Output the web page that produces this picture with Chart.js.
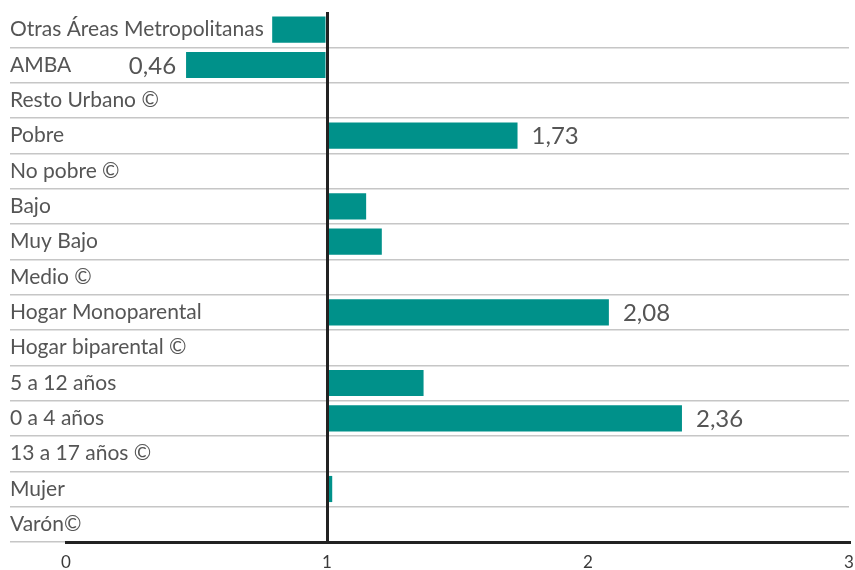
<!DOCTYPE html>
<html>
<head>
<meta charset="utf-8">
<script src="https://cdn.jsdelivr.net/npm/chart.js@4/dist/chart.umd.min.js"></script>
<style>
  html, body { margin: 0; padding: 0; background: #fff; }
  #wrap { width: 855px; height: 570px; }
</style>
</head>
<body>
<div id="wrap"><canvas id="chart"></canvas></div>
<script>
var categories = ['Otras Áreas Metropolitanas', 'AMBA', 'Resto Urbano ©', 'Pobre', 'No pobre ©',
  'Bajo', 'Muy Bajo', 'Medio ©', 'Hogar Monoparental', 'Hogar biparental ©',
  '5 a 12 años', '0 a 4 años', '13 a 17 años ©', 'Mujer', 'Varón©'];
var values = [0.79, 0.46, 1, 1.73, 1, 1.15, 1.21, 1, 2.08, 1, 1.37, 2.36, 1, 1.02, 1];
var valueLabels = ['', '0,46', '', '1,73', '', '', '', '', '2,08', '', '', '2,36', '', '', ''];
var xTicks = [0, 1, 2, 3];

var textColor = '#555';
var fontFamily = 'Lato, "Open Sans", sans-serif';

// value labels next to the bars
var valueLabelPlugin = {
  id: 'valueLabels',
  afterDatasetsDraw: function(chart) {
    var ctx = chart.ctx;
    var meta = chart.getDatasetMeta(0);
    ctx.save();
    ctx.font = '24px ' + fontFamily;
    ctx.fillStyle = textColor;
    ctx.textBaseline = 'middle';
    meta.data.forEach(function(bar, i) {
      var txt = valueLabels[i];
      if (!txt) return;
      if (values[i] >= 1) {
        ctx.textAlign = 'left';
        ctx.fillText(txt, bar.x + 14, bar.y + 1);
      } else {
        ctx.textAlign = 'right';
        ctx.fillText(txt, bar.x - 10, bar.y + 1);
      }
    });
    ctx.restore();
  }
};

var n = categories.length;

new Chart(document.getElementById('chart'), {
  type: 'bar',
  data: {
    labels: categories,
    datasets: [{
      data: values,
      base: 1,
      backgroundColor: '#00918a',
      borderWidth: 0,
      categoryPercentage: 0.74,
      barPercentage: 1
    }]
  },
  options: {
    indexAxis: 'y',
    responsive: true,
    maintainAspectRatio: false,
    animation: false,
    layout: { padding: { left: 10, right: 6, top: 12, bottom: 0 } },
    plugins: {
      legend: { display: false },
      tooltip: { enabled: false }
    },
    scales: {
      x: {
        min: 0,
        max: 3,
        afterBuildTicks: function(scale) {
          scale.ticks = xTicks.map(function(v) { return { value: v }; });
        },
        afterFit: function(scale) {
          scale.height = 28;
          scale.paddingLeft = 0;
          scale.paddingRight = 0;
        },
        ticks: {
          color: '#3a3a3a',
          font: { family: fontFamily, size: 17 },
          padding: 10,
          maxRotation: 0
        },
        grid: {
          drawTicks: false,
          z: 1,
          color: function(c) { return c.tick && c.tick.value === 1 ? '#222' : 'rgba(0,0,0,0)'; },
          lineWidth: 3
        },
        border: { color: '#222', width: 3, z: 1 }
      },
      y: {
        afterFit: function(scale) { scale.width = 56; },
        ticks: {
          color: textColor,
          mirror: true,
          padding: -56,
          font: { family: fontFamily, size: 21 },
          autoSkip: false
        },
        grid: {
          offset: true,
          tickLength: 56,
          lineWidth: 1.5,
          color: function(c) {
            return (c.index === 0 || c.index >= n) ? 'rgba(0,0,0,0)' : '#c6c6c6';
          }
        },
        border: { display: false }
      }
    }
  },
  plugins: [valueLabelPlugin]
});
</script>
</body>
</html>
